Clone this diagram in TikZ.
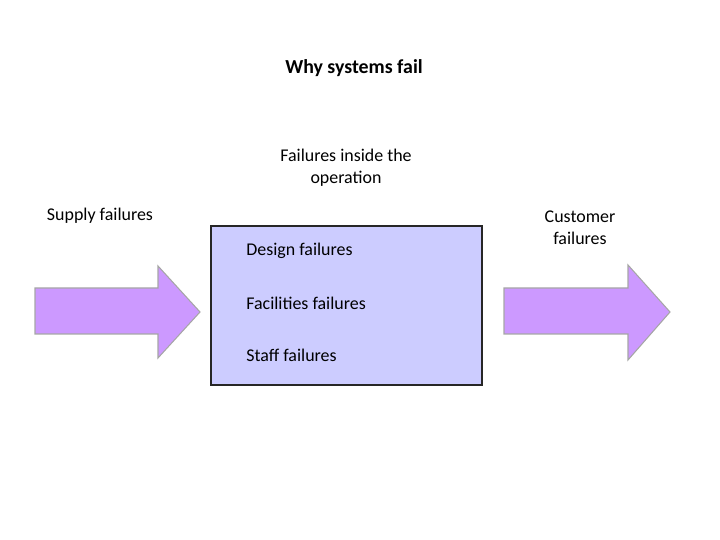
\documentclass[tikz,border=0pt]{standalone}
\usepackage{fontspec}
\setmainfont{Carlito}
\definecolor{boxfill}{HTML}{CCCCFF}
\definecolor{arrowfill}{HTML}{CC99FF}
\tikzset{lbl/.style={font=\fontsize{10.2}{12.5}\selectfont,align=center,inner sep=0pt}}
\tikzset{bigarrow/.style={fill=arrowfill,draw=gray!70,line width=0.6pt}}
\begin{document}
\begin{tikzpicture}[x=0.02cm,y=-0.02cm]
\useasboundingbox (0,0) rectangle (720,540);
\node[lbl,font=\bfseries\fontsize{11.3}{13}\selectfont] (title) at (354,68) {Why systems fail};
\node[lbl] (inside) at (346,168) {Failures inside the\\operation};
\node[lbl] (supply) at (100,216) {Supply failures};
\node[lbl] (customer) at (580,228) {Customer\\failures};
\draw[fill=boxfill,draw=black!85,line width=1.2pt] (211,226) rectangle (482,385);
\node[lbl,anchor=west] (design) at (246,251) {Design failures};
\node[lbl,anchor=west] (facil) at (246,303) {Facilities failures};
\node[lbl,anchor=west] (staff) at (246,355) {Staff failures};
\draw[bigarrow] (35,288) -- (158,288) -- (158,266) -- (200,312) -- (158,358) -- (158,334) -- (35,334) -- cycle;
\draw[bigarrow] (504,288) -- (628,288) -- (628,265) -- (670,312) -- (628,360) -- (628,334) -- (504,334) -- cycle;
\end{tikzpicture}
\end{document}
